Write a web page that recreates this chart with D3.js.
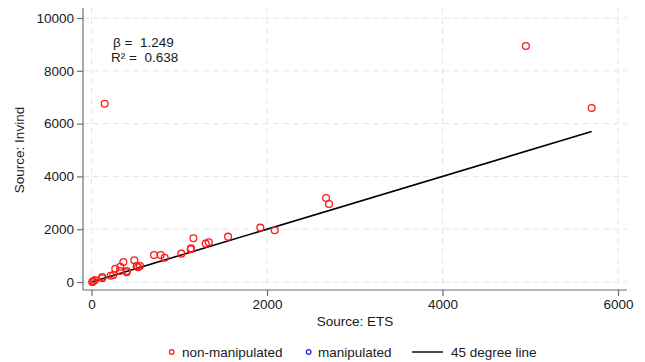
<html>
<head>
<style>
  body { margin: 0; background: #fff; }
  text { font-family: "Liberation Sans", Arial, sans-serif; fill: #1a1a1a; }
  .grid line { stroke: #e6e6e6; stroke-dasharray: 6,4; stroke-width: 1; }
  .axis path, .axis line { stroke: #6e6e6e; stroke-width: 1.2; }
  .axis text { font-size: 13.5px; fill: #1a1a1a; }
</style>
</head>
<body>
<svg id="chart" width="645" height="362"></svg>
<script src="https://cdn.jsdelivr.net/npm/d3@7"></script>
<script>
// ETS vs Invind values
let etsValues = [4950, 5700, 150, 2673, 2707, 1924, 2088, 1556, 1161, 1336, 1302, 1134, 1131, 1024,
                 712, 789, 834, 488, 363, 271, 328, 325, 401, 401, 515, 553, 530, 219, 249, 123, 123, 9, 21, 40, 15]
let invindValues = [8940, 6590, 6750, 3184, 2956, 2058, 1959, 1717, 1656, 1505, 1452, 1277, 1239, 1073,
                    1023, 1023, 921, 822, 758, 504, 580, 417, 417, 368, 606, 606, 557, 239, 265, 190, 140, 0, 38, 76, 10]
let xTicks = [0, 2000, 4000, 6000]
let yTicks = [0, 2000, 4000, 6000, 8000, 10000]
let legendLabels = ["non-manipulated", "manipulated", "45 degree line"]
let beta = "1.249"
let r2 = "0.638"

let data = etsValues.map((d, i) => ({ ets: d, invind: invindValues[i] }))

let svg = d3.select("#chart")

// plot area
let plotLeft = 83, plotRight = 627, plotTop = 8, plotBottom = 290

let xScale = d3.scaleLinear().domain([0, 6000]).range([91.5, 618])
let yScale = d3.scaleLinear().domain([0, 10000]).range([282, 18])

// dashed grid
let grid = svg.append("g").attr("class", "grid")
grid.selectAll(".h").data(yTicks).enter().append("line")
    .attr("x1", plotLeft).attr("x2", plotRight)
    .attr("y1", d => yScale(d)).attr("y2", d => yScale(d))
grid.selectAll(".v").data(xTicks).enter().append("line")
    .attr("x1", d => xScale(d)).attr("x2", d => xScale(d))
    .attr("y1", plotTop).attr("y2", plotBottom)

// axes
svg.append("g").attr("class", "axis")
    .attr("transform", "translate(0," + plotBottom + ")")
    .call(d3.axisBottom(xScale).tickValues(xTicks).tickFormat(d3.format("d"))
        .tickSize(6).tickPadding(3).tickSizeOuter(0))
    .call(g => g.select(".domain").attr("d", "M" + plotLeft + ",0H" + plotRight))

svg.append("g").attr("class", "axis")
    .attr("transform", "translate(" + plotLeft + ",0)")
    .call(d3.axisLeft(yScale).tickValues(yTicks).tickFormat(d3.format("d"))
        .tickSize(6).tickPadding(3).tickSizeOuter(0))
    .call(g => g.select(".domain").attr("d", "M0," + plotTop + "V" + plotBottom))

// 45 degree line from 0 to max ETS
let maxX = d3.max(etsValues)
let line = d3.line().x(d => xScale(d)).y(d => yScale(d))
svg.append("path")
    .datum([0, maxX])
    .attr("d", line)
    .attr("fill", "none")
    .attr("stroke", "#000")
    .attr("stroke-width", 1.6)

// points
svg.append("g").selectAll("circle").data(data).enter().append("circle")
    .attr("cx", d => xScale(d.ets))
    .attr("cy", d => yScale(d.invind))
    .attr("r", 3.4)
    .attr("fill", "none")
    .attr("stroke", "#ff1a1a")
    .attr("stroke-width", 1.3)

// annotation
svg.append("text").attr("x", 113).attr("y", 47).style("font-size", "13.5px")
    .attr("xml:space", "preserve").text("\u03b2 =  " + beta)
svg.append("text").attr("x", 111).attr("y", 62).style("font-size", "13.5px")
    .attr("xml:space", "preserve").text("R\u00b2 =  " + r2)

// axis titles
svg.append("text").attr("x", (plotLeft + plotRight) / 2).attr("y", 326)
    .attr("text-anchor", "middle").style("font-size", "13.5px").text("Source: ETS")
svg.append("text").attr("transform", "translate(24,150) rotate(-90)")
    .attr("text-anchor", "middle").style("font-size", "13.5px").text("Source: Invind")

// legend
let ly = 352
let legend = svg.append("g")
legend.append("circle").attr("cx", 171.7).attr("cy", ly).attr("r", 2.3)
    .attr("fill", "none").attr("stroke", "#ff1a1a").attr("stroke-width", 1.2)
legend.append("text").attr("x", 182).attr("y", ly + 4.5).style("font-size", "13.5px").text(legendLabels[0])
legend.append("circle").attr("cx", 308.7).attr("cy", ly).attr("r", 2.3)
    .attr("fill", "none").attr("stroke", "#1a1aff").attr("stroke-width", 1.2)
legend.append("text").attr("x", 318).attr("y", ly + 4.5).style("font-size", "13.5px").text(legendLabels[1])
legend.append("line").attr("x1", 412).attr("x2", 443).attr("y1", ly).attr("y2", ly)
    .attr("stroke", "#000").attr("stroke-width", 1.4)
legend.append("text").attr("x", 451).attr("y", ly + 4.5).style("font-size", "13.5px").text(legendLabels[2])
</script>
</body>
</html>
